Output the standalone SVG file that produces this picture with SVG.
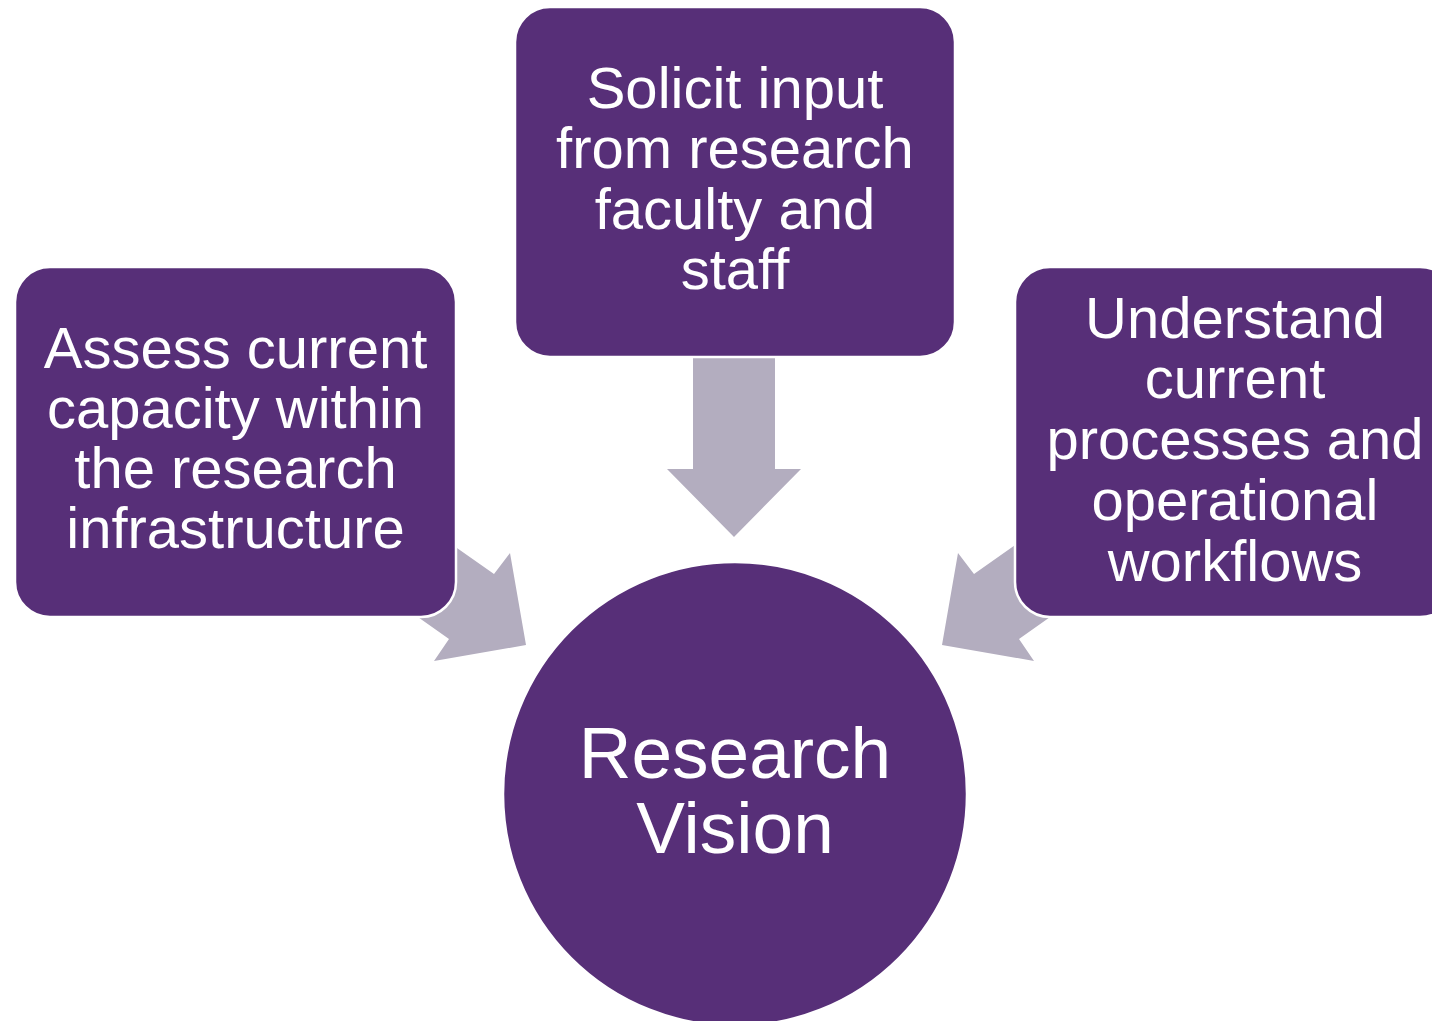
<svg xmlns="http://www.w3.org/2000/svg" width="1432" height="1021" viewBox="0 0 1432 1021">
<style>
.box{fill:#572F78;stroke:#FFFFFF;stroke-width:2.5}
.arrow{fill:#B3ADBF;stroke:none}
.t{font-family:"Liberation Sans",Arial,sans-serif;fill:#FFFFFF;text-anchor:middle;font-size:58px}
.tc{font-family:"Liberation Sans",Arial,sans-serif;fill:#FFFFFF;text-anchor:middle;font-size:73px}
</style>
<rect width="1432" height="1021" fill="#FFFFFF"/>
<g id="connectors">
<polygon class="arrow" points="693,356 775,356 775,469 801,469 734,537 667,469 693,469"/>
<polygon class="arrow" points="437,534 494,574 510,553 526,645 434,661 449,639 391,598"/>
<polygon class="arrow" points="1031,534 974,574 958,553 942,645 1034,661 1019,639 1077,598"/>
</g>
<g id="node-vision">
<circle class="box" cx="735" cy="794" r="232" stroke="none"/>
<text class="tc" x="735" y="778">Research</text>
<text class="tc" x="735" y="853">Vision</text>
</g>
<g id="node-assess">
<rect class="box" x="15" y="267" width="441" height="350" rx="35" ry="35"/>
<text class="t" x="235.5" y="368">Assess current</text>
<text class="t" x="235.5" y="428">capacity within</text>
<text class="t" x="235.5" y="488">the research</text>
<text class="t" x="235.5" y="548">infrastructure</text>
</g>
<g id="node-solicit">
<rect class="box" x="515" y="7" width="440" height="350" rx="35" ry="35"/>
<text class="t" x="735" y="108">Solicit input</text>
<text class="t" x="735" y="168">from research</text>
<text class="t" x="735" y="229">faculty and</text>
<text class="t" x="735" y="289">staff</text>
</g>
<g id="node-understand">
<rect class="box" x="1015" y="267" width="440" height="350" rx="35" ry="35"/>
<text class="t" x="1235" y="338">Understand</text>
<text class="t" x="1235" y="398">current</text>
<text class="t" x="1235" y="459">processes and</text>
<text class="t" x="1235" y="520">operational</text>
<text class="t" x="1235" y="581">workflows</text>
</g>
</svg>
